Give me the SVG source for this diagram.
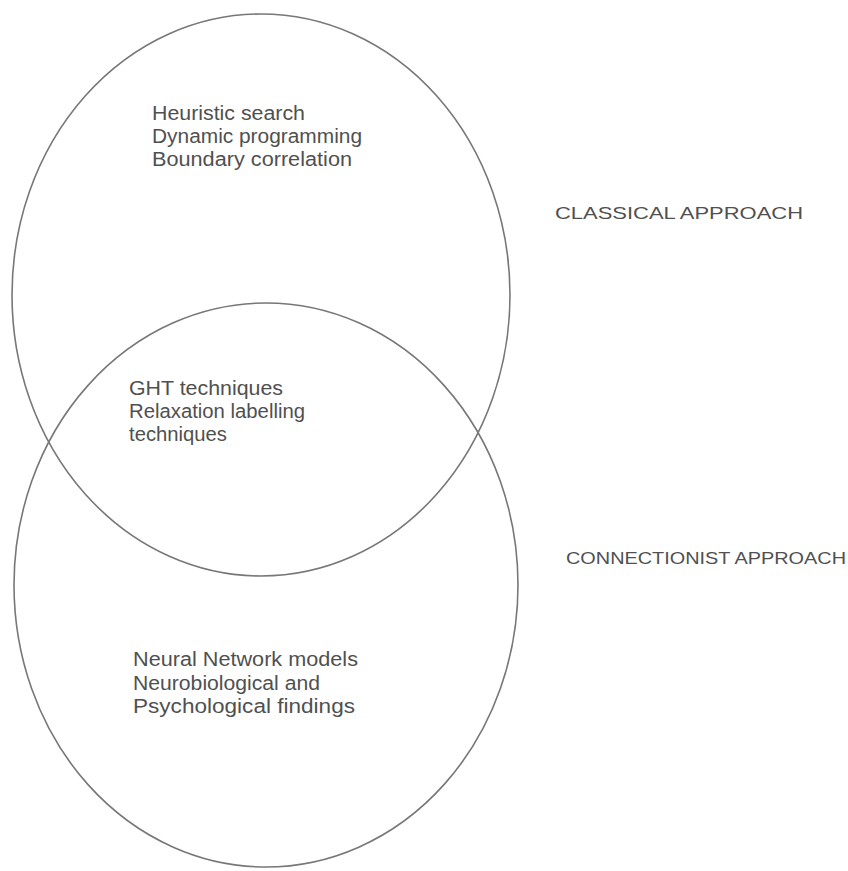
<svg xmlns="http://www.w3.org/2000/svg" width="848" height="871" viewBox="0 0 848 871">
<style>
.ring{fill:none;stroke:#777;stroke-width:1.6}
.t{font-family:"Liberation Sans",Arial,sans-serif;font-size:20px;fill:#505050}
.h{font-family:"Liberation Sans",Arial,sans-serif;font-size:17px;fill:#505050}
</style>
<rect width="848" height="871" fill="#fff"/>
<g id="classical">
<ellipse class="ring" cx="261" cy="295" rx="249" ry="281"/>
<text class="t" x="152" y="120" textLength="153" lengthAdjust="spacingAndGlyphs">Heuristic search</text>
<text class="t" x="152" y="143" textLength="210" lengthAdjust="spacingAndGlyphs">Dynamic programming</text>
<text class="t" x="152" y="166" textLength="200" lengthAdjust="spacingAndGlyphs">Boundary correlation</text>
<text class="h" x="555" y="219" textLength="248" lengthAdjust="spacingAndGlyphs">CLASSICAL APPROACH</text>
</g>
<g id="connectionist">
<ellipse class="ring" cx="266" cy="585" rx="252" ry="282"/>
<text class="t" x="133" y="666" textLength="225" lengthAdjust="spacingAndGlyphs">Neural Network models</text>
<text class="t" x="133" y="690" textLength="187" lengthAdjust="spacingAndGlyphs">Neurobiological and</text>
<text class="t" x="133" y="713" textLength="222" lengthAdjust="spacingAndGlyphs">Psychological findings</text>
<text class="h" x="566" y="564" textLength="280" lengthAdjust="spacingAndGlyphs">CONNECTIONIST APPROACH</text>
</g>
<g id="overlap">
<text class="t" x="129" y="395" textLength="154" lengthAdjust="spacingAndGlyphs">GHT techniques</text>
<text class="t" x="129" y="418" textLength="176" lengthAdjust="spacingAndGlyphs">Relaxation labelling</text>
<text class="t" x="129" y="441" textLength="98" lengthAdjust="spacingAndGlyphs">techniques</text>
</g>
<g id="connectors"></g>
</svg>
